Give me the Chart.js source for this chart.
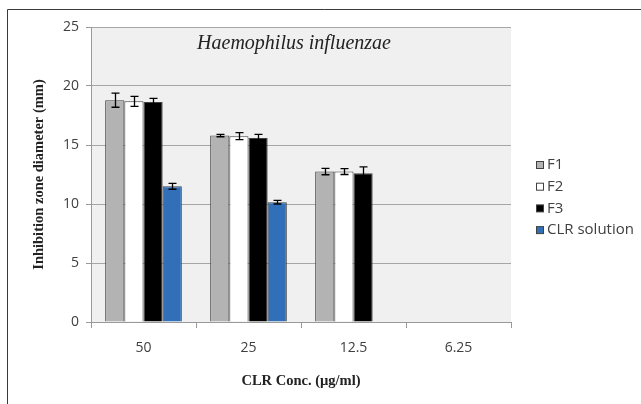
<!DOCTYPE html>
<html>
<head>
<meta charset="utf-8">
<script src="https://cdn.jsdelivr.net/npm/chart.js@4"></script>
<style>
  html, body { margin: 0; padding: 0; background: #fff; }
  #wrap { width: 641px; height: 404px; position: relative; }
</style>
</head>
<body>
<div id="wrap"><canvas id="chart" width="641" height="404"></canvas></div>
<script>
// Concentrations on the x axis
const categories = ['50', '25', '12.5', '6.25'];

// Inhibition zone diameters (mm)
const f1 = [18.8, 15.8, 12.75, null];
const f2 = [18.7, 15.75, 12.75, null];
const f3 = [18.65, 15.6, 12.6, null];
const clrSolution = [11.5, 10.15, null, null];

// Error bar half-heights (mm)
const f1Err = [0.6, 0.1, 0.27, null];
const f2Err = [0.42, 0.3, 0.25, null];
const f3Err = [0.3, 0.3, 0.55, null];
const clrErr = [0.25, 0.15, null, null];

const yTicks = [0, 5, 10, 15, 20, 25];

const tickFont = { family: '"Open Sans", sans-serif', size: 14 };
const titleFont = { family: '"Liberation Serif", serif', size: 14.5, weight: 'bold' };

// grey plot background + outer frame
const backdrop = {
    id: 'backdrop',
    beforeDraw(chart) {
        const { ctx, chartArea } = chart;
        ctx.save();
        ctx.fillStyle = '#fff';
        ctx.fillRect(0, 0, chart.width, chart.height);
        ctx.fillStyle = '#eff0ef';
        ctx.fillRect(chartArea.left, chartArea.top, chartArea.right - chartArea.left, chartArea.bottom - chartArea.top);
        ctx.strokeStyle = '#3a3a3a';
        ctx.lineWidth = 1;
        ctx.beginPath();
        ctx.moveTo(7.5, chart.height);
        ctx.lineTo(7.5, 9.5);
        ctx.lineTo(chart.width, 9.5);
        ctx.stroke();
        ctx.restore();
    }
};

// error bars drawn from the bar elements and the y scale
const errorBars = {
    id: 'errorBars',
    afterDatasetsDraw(chart) {
        const { ctx } = chart;
        const yScale = chart.scales.y;
        ctx.save();
        ctx.strokeStyle = '#000';
        ctx.lineWidth = 1.3;
        chart.data.datasets.forEach((ds, i) => {
            const meta = chart.getDatasetMeta(i);
            meta.data.forEach((bar, j) => {
                const v = ds.data[j];
                const e = ds.errors[j];
                if (v == null || e == null) return;
                const x = Math.round(bar.x) + 0.5;
                const yTop = yScale.getPixelForValue(v + e);
                const yBot = yScale.getPixelForValue(v - e);
                ctx.beginPath();
                ctx.moveTo(x, yTop);
                ctx.lineTo(x, yBot);
                ctx.moveTo(x - 4, yTop);
                ctx.lineTo(x + 4, yTop);
                ctx.moveTo(x - 4, yBot);
                ctx.lineTo(x + 4, yBot);
                ctx.stroke();
            });
        });
        ctx.restore();
    }
};

// italic organism name inside the plot + legend at the right
const labels = {
    id: 'labels',
    afterDraw(chart) {
        const { ctx, chartArea } = chart;
        ctx.save();
        ctx.fillStyle = '#222';
        ctx.font = 'italic 20px "Liberation Serif", serif';
        ctx.textAlign = 'center';
        ctx.textBaseline = 'middle';
        ctx.fillText('Haemophilus influenzae', (chartArea.left + chartArea.right) / 2 - 7, 44);

        // legend
        ctx.font = '15px "Open Sans", sans-serif';
        ctx.textAlign = 'left';
        chart.data.datasets.forEach((ds, i) => {
            const y = 165 + i * 21.7;
            ctx.fillStyle = ds.backgroundColor;
            ctx.fillRect(536.5, y - 3.5, 7, 7);
            ctx.strokeStyle = '#404040';
            ctx.lineWidth = 1;
            ctx.strokeRect(536.5, y - 3.5, 7, 7);
            ctx.fillStyle = '#404040';
            ctx.fillText(ds.label, 547, y);
        });
        ctx.restore();
    }
};

function makeSet(label, data, errors, color) {
    return {
        label: label,
        data: data,
        errors: errors,
        backgroundColor: color,
        borderColor: '#404040',
        borderWidth: 1,
        categoryPercentage: 0.73,
        barPercentage: 1
    };
}

new Chart(document.getElementById('chart'), {
    type: 'bar',
    data: {
        labels: categories,
        datasets: [
            makeSet('F1', f1, f1Err, '#b3b3b3'),
            makeSet('F2', f2, f2Err, '#ffffff'),
            makeSet('F3', f3, f3Err, '#000000'),
            makeSet('CLR solution', clrSolution, clrErr, '#3170b8')
        ]
    },
    options: {
        responsive: false,
        animation: false,
        layout: { padding: { top: 27, right: 130, bottom: 0, left: 0 } },
        plugins: {
            legend: { display: false },
            tooltip: { enabled: false }
        },
        scales: {
            x: {
                afterFit: scale => { scale.height = 82; },
                grid: { offset: true, drawOnChartArea: false, tickLength: 6, color: '#999' },
                border: { color: '#999' },
                ticks: { color: '#404040', font: tickFont, padding: 12 },
                title: { display: true, text: 'CLR Conc. (µg/ml)', color: '#222', font: titleFont, padding: { top: 0, bottom: 14 } }
            },
            y: {
                min: 0,
                max: 25,
                afterFit: scale => { scale.width = 91; },
                afterBuildTicks: scale => { scale.ticks = yTicks.map(v => ({ value: v })); },
                grid: { color: '#a6a6a6', tickLength: 5, tickColor: '#999' },
                border: { color: '#999' },
                ticks: { color: '#404040', font: tickFont, padding: 7 },
                title: { display: true, text: 'Inhibition zone diameter (mm)', color: '#222', font: titleFont, padding: { top: 31, bottom: 0 } }
            }
        }
    },
    plugins: [backdrop, errorBars, labels]
});
</script>
</body>
</html>
